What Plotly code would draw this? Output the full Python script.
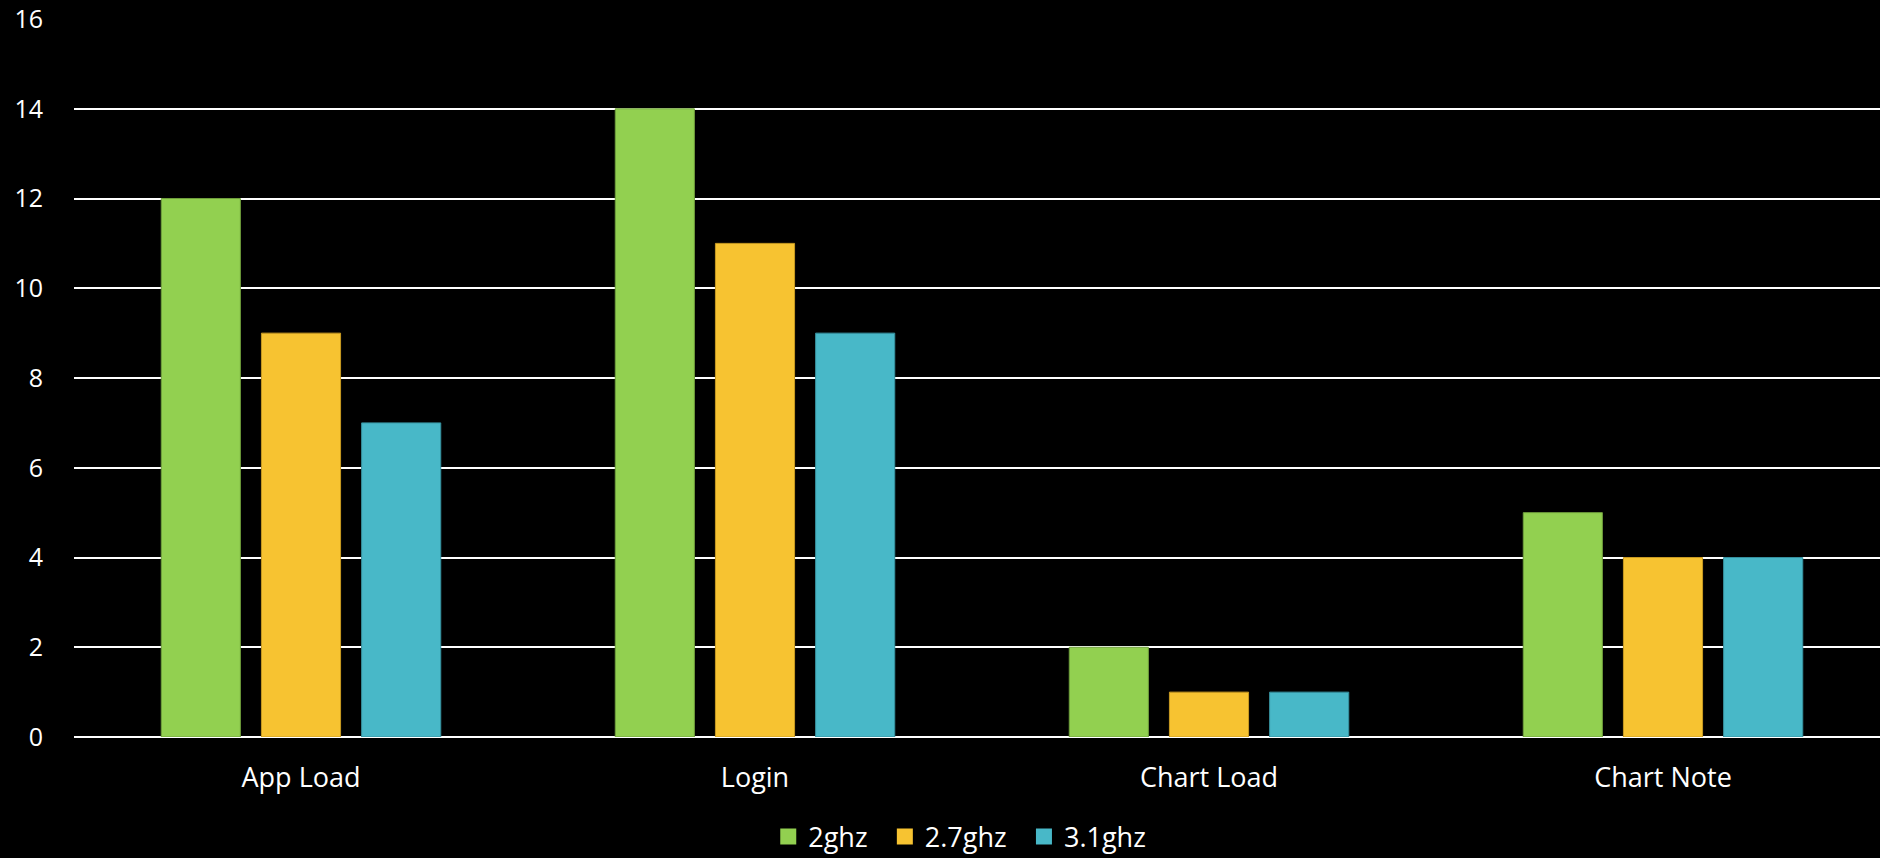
import plotly.graph_objects as go

categories = ["App Load", "Login", "Chart Load", "Chart Note"]
series_names = ["2ghz", "2.7ghz", "3.1ghz"]
values_2ghz = [12, 14, 2, 5]
values_27ghz = [9, 11, 1, 4]
values_31ghz = [7, 9, 1, 4]
y_ticks = [0, 2, 4, 6, 8, 10, 12, 14, 16]

colors = ["#92D050", "#F7C331", "#48B8C8"]
edges = ["#6F9E3C", "#C89A22", "#36909E"]

fig = go.Figure()
for name, vals, c, e in zip(series_names, [values_2ghz, values_27ghz, values_31ghz], colors, edges):
    fig.add_trace(go.Bar(x=categories, y=vals, name=name, showlegend=False,
                         marker=dict(color=c, line=dict(color=e, width=1))))

legend_ids = ["legend", "legend2", "legend3"]
legend_x = [0.3823, 0.4465, 0.5231]
for name, c, lid in zip(series_names, colors, legend_ids):
    fig.add_trace(go.Scatter(x=[None], y=[None], mode="markers", name=name, legend=lid,
                             marker=dict(symbol="square", size=18, color=c)))

def leg(x):
    return dict(orientation="h", x=x, xanchor="left", yref="container", y=0.0245, yanchor="middle",
                font=dict(size=27, color="white"), itemwidth=30,
                bgcolor="rgba(0,0,0,0)")

fig.update_layout(
    width=1890, height=858,
    paper_bgcolor="black", plot_bgcolor="black",
    margin=dict(l=74, r=0, t=19, b=121, autoexpand=False),
    barmode="group", bargap=0.338, bargroupgap=0.21,
    font=dict(family="Open Sans", color="white", size=25),
    showlegend=True,
    legend=leg(legend_x[0]), legend2=leg(legend_x[1]), legend3=leg(legend_x[2]),
    xaxis=dict(showgrid=False, zeroline=False, showline=False, ticks="", automargin=False,
               tickfont=dict(size=27, color="white"), ticklabelstandoff=22),
    yaxis=dict(range=[0, 16], tickvals=y_ticks, showgrid=True, gridcolor="white", gridwidth=2,
               zeroline=True, zerolinecolor="white", zerolinewidth=2, showline=False, ticks="",
               automargin=False,
               tickfont=dict(size=25, color="white"), ticklabelstandoff=30),
)

fig.write_html("out.html", config={"displayModeBar": False},
               post_script="document.body.style.margin='0';document.body.style.background='black';"
                           "document.body.style.overflow='hidden';"
                           "document.documentElement.style.overflow='hidden';")
